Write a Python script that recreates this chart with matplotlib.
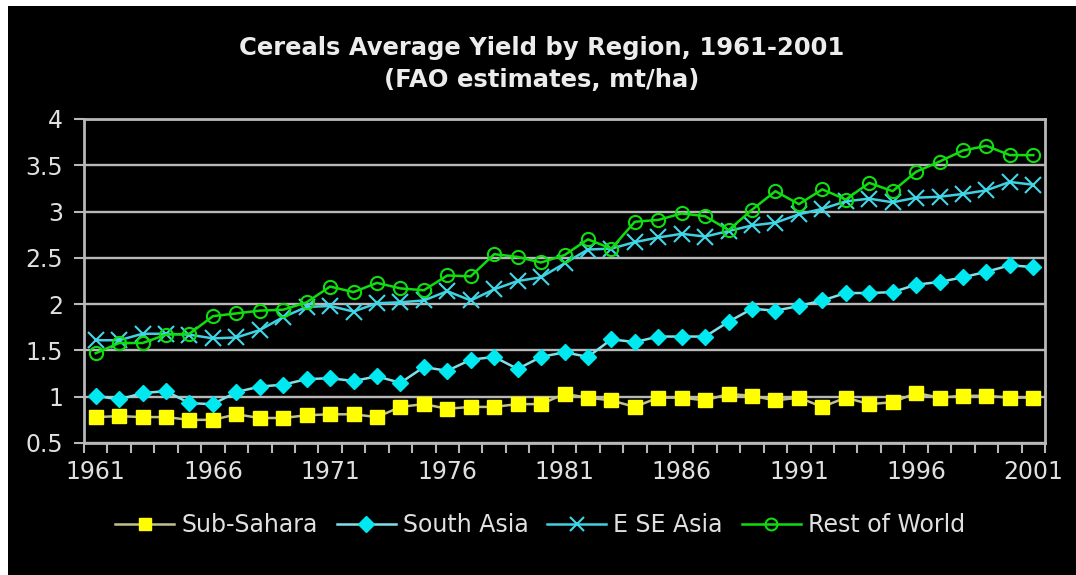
import matplotlib
matplotlib.use("Agg")
import matplotlib.pyplot as plt
from matplotlib.patches import Rectangle
import numpy as np

years = list(range(1961, 2002))
sub_sahara = [0.78, 0.79, 0.78, 0.78, 0.75, 0.75, 0.81, 0.77, 0.77, 0.80,
              0.81, 0.81, 0.78, 0.89, 0.92, 0.87, 0.89, 0.89, 0.92, 0.92,
              1.03, 0.99, 0.96, 0.89, 0.99, 0.99, 0.96, 1.03, 1.01, 0.96,
              0.99, 0.89, 0.99, 0.92, 0.94, 1.04, 0.99, 1.01, 1.01, 0.99, 0.99]
south_asia = [1.01, 0.97, 1.04, 1.06, 0.93, 0.92, 1.05, 1.11, 1.13, 1.19,
              1.20, 1.17, 1.22, 1.15, 1.32, 1.28, 1.40, 1.43, 1.30, 1.43,
              1.48, 1.43, 1.62, 1.59, 1.65, 1.65, 1.65, 1.81, 1.95, 1.93,
              1.98, 2.04, 2.12, 2.12, 2.13, 2.21, 2.24, 2.29, 2.35, 2.42, 2.40]
e_se_asia = [1.61, 1.61, 1.68, 1.68, 1.67, 1.63, 1.64, 1.72, 1.86, 1.97,
             1.98, 1.92, 2.01, 2.02, 2.04, 2.14, 2.04, 2.16, 2.25, 2.29,
             2.44, 2.59, 2.60, 2.67, 2.72, 2.76, 2.73, 2.79, 2.85, 2.88,
             2.97, 3.03, 3.11, 3.14, 3.10, 3.15, 3.16, 3.19, 3.23, 3.32, 3.29]
rest_of_world = [1.47, 1.58, 1.58, 1.67, 1.68, 1.87, 1.90, 1.93, 1.94, 2.02,
                 2.19, 2.13, 2.23, 2.17, 2.15, 2.31, 2.30, 2.54, 2.51, 2.45,
                 2.53, 2.70, 2.60, 2.89, 2.91, 2.98, 2.95, 2.80, 3.02, 3.22,
                 3.08, 3.24, 3.13, 3.31, 3.22, 3.43, 3.54, 3.66, 3.71, 3.61, 3.61]
x_labels = [1961, 1966, 1971, 1976, 1981, 1986, 1991, 1996, 2001]
y_ticks = [0.5, 1, 1.5, 2, 2.5, 3, 3.5, 4]
title = "Cereals Average Yield by Region, 1961-2001\n(FAO estimates, mt/ha)"

plt.rcParams['font.family'] = ['DejaVu Sans']
W, H = 1076, 575
fig = plt.figure(figsize=(W / 100, H / 100), dpi=100)
fig.patch.set_facecolor('white')
fig.add_artist(Rectangle((8 / W, 0), 1 - 8 / W, 1 - 6 / H, transform=fig.transFigure,
                         facecolor='black', edgecolor='none', zorder=0))

ax = fig.add_axes([84 / W, 1 - 443 / H, (1045 - 84) / W, (443 - 119) / H])
ax.set_facecolor('black')

grid_c = '#b8b8b8'
ax.plot(years, sub_sahara, color='#c0c090', lw=1.8, marker='s', ms=9.5,
        mfc='#ffff00', mec='#ffff00', label='Sub-Sahara', zorder=5)
ax.plot(years, south_asia, color='#7fe0e8', lw=1.8, marker='D', ms=8.5,
        mfc='#00e8f0', mec='#00e8f0', label='South Asia', zorder=4)
ax.plot(years, e_se_asia, color='#40d0e0', lw=1.8, marker='x', ms=11.5, mew=1.5,
        mec='#40d8e8', label='E SE Asia', zorder=3)
ax.plot(years, rest_of_world, color='#10dd10', lw=1.8, marker='o', ms=9.5, mew=1.5,
        mfc='none', mec='#10dd10', label='Rest of World', zorder=6)

ax.set_xlim(1960.5, 2001.5)
ax.set_ylim(0.5, 4)
ax.set_yticks(y_ticks)
ax.set_yticklabels([f"{v:g}" for v in y_ticks])
ax.set_xticks(x_labels)
ax.set_xticklabels([str(v) for v in x_labels])
ax.set_xticks(np.arange(1960.5, 2002, 1), minor=True)
ax.tick_params(axis='x', which='major', length=0, pad=12, labelsize=17)
ax.tick_params(axis='x', which='minor', length=7, width=1.5, color=grid_c, direction='out')
ax.tick_params(axis='y', which='major', length=7, width=1.5, color=grid_c,
               labelsize=17, pad=8)
for lbl in ax.get_xticklabels() + ax.get_yticklabels():
    lbl.set_color('#e0e0e0')
ax.yaxis.grid(True, color=grid_c, lw=1.7)
ax.set_axisbelow(True)
for s in ax.spines.values():
    s.set_color(grid_c)
    s.set_linewidth(2)

fig.text(0.503, 1 - 64 / H, title, ha='center', va='center', color='#ececec',
         fontsize=17.5, fontweight='bold', linespacing=1.4)

fig.legend(loc='center', bbox_to_anchor=(0.502, 1 - 525 / H), ncol=4, frameon=False,
           fontsize=17, labelcolor='#e0e0e0', handlelength=2.5, handletextpad=0.3,
           columnspacing=0.8, markerscale=0.9)

fig.savefig('out.png', dpi=100, facecolor=fig.get_facecolor())
